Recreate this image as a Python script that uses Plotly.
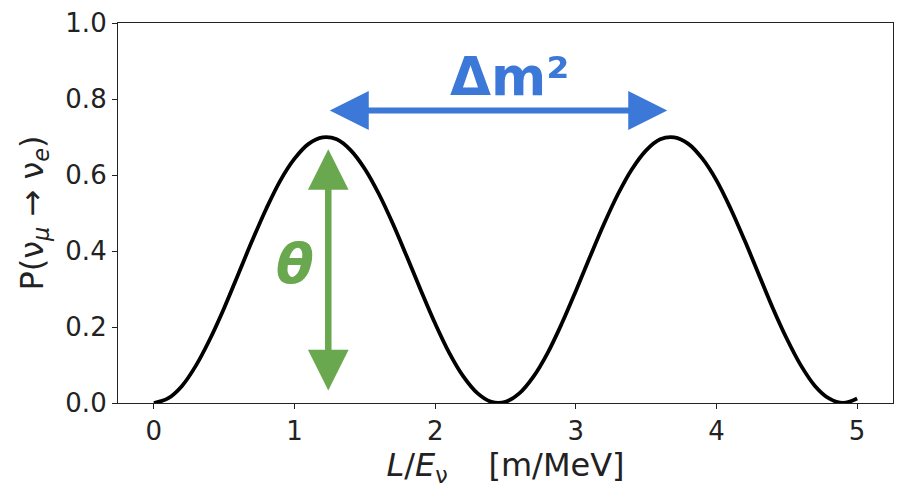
import plotly.graph_objects as go

# L/E values (m/MeV) and oscillation probability
l_over_e = [0.0, 0.1, 0.2, 0.3, 0.4, 0.5, 0.6, 0.7, 0.8, 0.9, 1.0,
            1.1, 1.2, 1.3, 1.4, 1.5, 1.6, 1.7, 1.8, 1.9, 2.0,
            2.1, 2.2, 2.3, 2.4, 2.5, 2.6, 2.7, 2.8, 2.9, 3.0,
            3.1, 3.2, 3.3, 3.4, 3.5, 3.6, 3.7, 3.8, 3.9, 4.0,
            4.1, 4.2, 4.3, 4.4, 4.5, 4.6, 4.7, 4.8, 4.9, 5.0]
prob = [0.000, 0.012, 0.045, 0.099, 0.169, 0.250, 0.339, 0.428, 0.512, 0.586, 0.643,
        0.682, 0.699, 0.694, 0.665, 0.616, 0.550, 0.471, 0.384, 0.295, 0.209,
        0.132, 0.070, 0.026, 0.003, 0.003, 0.026, 0.070, 0.132, 0.209, 0.295,
        0.384, 0.471, 0.550, 0.616, 0.665, 0.694, 0.699, 0.682, 0.643, 0.586,
        0.512, 0.428, 0.339, 0.250, 0.169, 0.099, 0.045, 0.012, 0.000, 0.012]

x_ticks = [0, 1, 2, 3, 4, 5]
y_ticks = [0.0, 0.2, 0.4, 0.6, 0.8, 1.0]
y_tick_labels = ["0.0", "0.2", "0.4", "0.6", "0.8", "1.0"]

# annotation anchors (data units)
dm2_arrow = {"x0": 1.24, "x1": 3.65, "y": 0.770}
dm2_label = {"x": 2.53, "y": 0.859, "text": "<b>Δm²</b>"}
theta_arrow = {"x": 1.24, "y0": 0.029, "y1": 0.668}
theta_label = {"x": 1.0, "y": 0.366, "text": "<b><i>θ</i></b>"}

BLUE = "#3b78d8"
GREEN = "#6aa84f"
FONT = "DejaVu Sans"
INK = "#222"

fig = go.Figure()
fig.add_trace(go.Scatter(x=l_over_e, y=prob, mode="lines",
                         line=dict(color="black", width=3.8, shape="spline"),
                         showlegend=False, hoverinfo="skip"))

# Δm² horizontal double arrow
fig.add_annotation(x=dm2_arrow["x1"], y=dm2_arrow["y"], ax=dm2_arrow["x0"], ay=dm2_arrow["y"],
                   xref="x", yref="y", axref="x", ayref="y", text="",
                   showarrow=True, arrowhead=2, startarrowhead=2, arrowside="end+start",
                   arrowwidth=6, arrowsize=1.3, startarrowsize=1.3, arrowcolor=BLUE,
                   standoff=0, startstandoff=0)
fig.add_annotation(x=dm2_label["x"], y=dm2_label["y"], xref="x", yref="y",
                   text=dm2_label["text"], showarrow=False,
                   font=dict(family=FONT, size=53, color=BLUE))

# θ vertical double arrow
fig.add_annotation(x=theta_arrow["x"], y=theta_arrow["y1"], ax=theta_arrow["x"], ay=theta_arrow["y0"],
                   xref="x", yref="y", axref="x", ayref="y", text="",
                   showarrow=True, arrowhead=2, startarrowhead=2, arrowside="end+start",
                   arrowwidth=6.5, arrowsize=1.25, startarrowsize=1.25, arrowcolor=GREEN,
                   standoff=0, startstandoff=0)
fig.add_annotation(x=theta_label["x"], y=theta_label["y"], xref="x", yref="y",
                   text=theta_label["text"], showarrow=False,
                   font=dict(family=FONT, size=55, color=GREEN))

axis_common = dict(showline=True, linecolor=INK, linewidth=1.2, mirror=True,
                   showgrid=False, zeroline=False, ticks="outside", ticklen=5,
                   tickcolor=INK, tickwidth=1, ticklabeloverflow="allow",
                   tickfont=dict(family=FONT, size=26, color=INK))

fig.update_layout(
    width=895, height=480,
    margin=dict(l=110, r=10, t=15, b=85),
    paper_bgcolor="white", plot_bgcolor="white",
    xaxis=dict(range=[-0.255, 5.255], tickvals=x_ticks, automargin="bottom",
               title=dict(text="<i>L</i>/<i>E</i><sub>ν</sub>&nbsp;&nbsp;&nbsp;&nbsp;[m/MeV]",
                          font=dict(family=FONT, size=32, color=INK), standoff=4),
               **axis_common),
    yaxis=dict(range=[0, 1.0], tickvals=y_ticks, ticktext=y_tick_labels, automargin="left",
               title=dict(text="P(ν<sub><i>μ</i></sub>&nbsp;→&nbsp;ν<sub><i>e</i></sub>)",
                          font=dict(family=FONT, size=32, color=INK), standoff=12),
               **axis_common),
)

fig.write_html("out.html")
